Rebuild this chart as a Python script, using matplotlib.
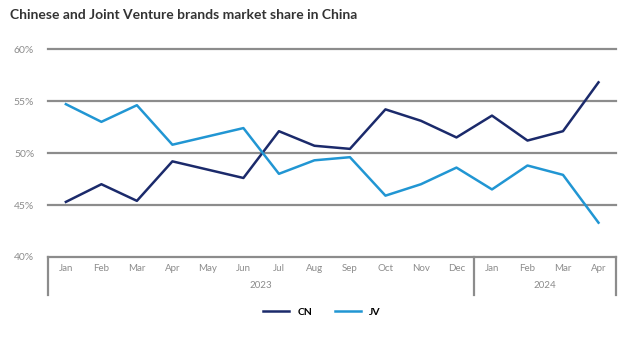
import matplotlib
matplotlib.use("Agg")
import matplotlib.pyplot as plt
import matplotlib.transforms as mtransforms

# Monthly market share (%) of Chinese (CN) and Joint Venture (JV) brands
months = ["Jan", "Feb", "Mar", "Apr", "May", "Jun", "Jul", "Aug", "Sep", "Oct", "Nov", "Dec",
          "Jan", "Feb", "Mar", "Apr"]
years = ["2023", "2024"]
year_counts = [12, 4]
cn = [45.3, 47.0, 45.4, 49.2, 48.4, 47.6, 52.1, 50.7, 50.4, 54.2, 53.1, 51.5,
      53.6, 51.2, 52.1, 56.8]
jv = [54.7, 53.0, 54.6, 50.8, 51.6, 52.4, 48.0, 49.3, 49.6, 45.9, 47.0, 48.6,
      46.5, 48.8, 47.9, 43.3]
yticks = [40, 45, 50, 55, 60]

plt.rcParams["font.family"] = ["Lato", "DejaVu Sans"]

cn_color = "#1b2a6b"
jv_color = "#2196d3"
grid_color = "#8c8c8c"
label_color = "#8c8c8c"

fig = plt.figure(figsize=(6.25, 3.37), dpi=100)
ax = fig.add_axes([0.077, 0.2374, 0.909, 0.617])

x = list(range(len(months)))
ax.plot(x, cn, color=cn_color, lw=1.8, label="CN")
ax.plot(x, jv, color=jv_color, lw=1.8, label="JV")

ax.set_ylim(40, 60)
ax.set_xlim(-0.5, len(months) - 0.5)
ax.set_yticks(yticks)
ax.set_yticklabels([f"{v}%" for v in yticks], color=label_color, fontsize=7.5)
for v in yticks[1:]:
    ax.axhline(v, color=grid_color, lw=1.6, zorder=0, clip_on=False)
ax.tick_params(axis="y", length=0, pad=10)
ax.tick_params(axis="x", length=0)
ax.set_xticks([])
for s in ["top", "right", "left"]:
    ax.spines[s].set_visible(False)
ax.spines["bottom"].set_color(grid_color)
ax.spines["bottom"].set_linewidth(1.6)

# two-level category axis: months and years
trans = mtransforms.blended_transform_factory(ax.transData, ax.transAxes)
for i, m in enumerate(months):
    ax.text(i, -0.053, m, transform=trans, ha="center", va="center",
            fontsize=7, color=label_color)

start = -0.5
bounds = [start]
for yr, n in zip(years, year_counts):
    ax.text(start + n / 2, -0.139, yr, transform=trans, ha="center", va="center",
            fontsize=7, color=label_color)
    start += n
    bounds.append(start)
for b in bounds:
    ax.plot([b, b], [0, -0.185], transform=trans, color=grid_color, lw=1.6,
            clip_on=False)

fig.text(0.016, 0.955, "Chinese and Joint Venture brands market share in China",
         fontsize=10, fontweight="bold", color="#333333", ha="left", va="center")

fig.legend(loc="center", bbox_to_anchor=(0.515, 0.074), ncol=2, frameon=False,
           prop={"weight": "bold", "size": 7.5}, handlelength=2.5, columnspacing=2.2)

fig.savefig("out.png", dpi=100, facecolor="white")
